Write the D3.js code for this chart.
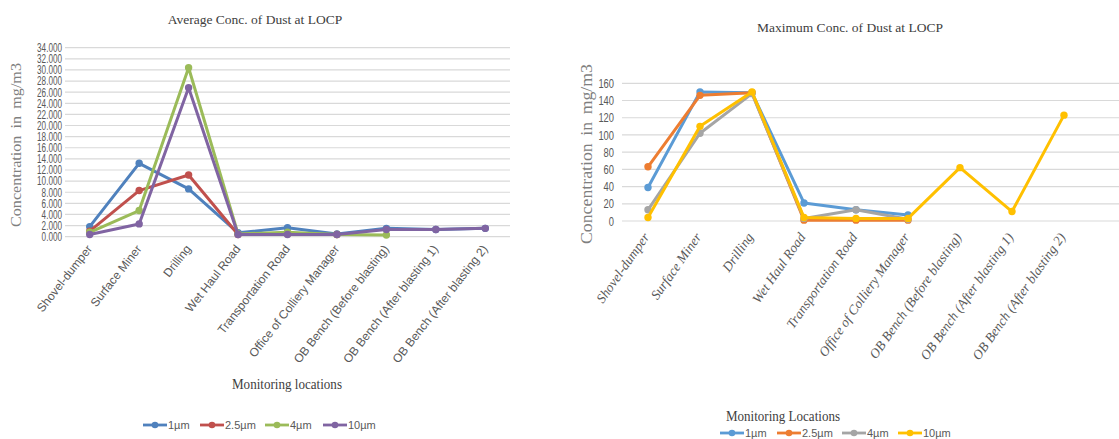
<!DOCTYPE html>
<html><head><meta charset="utf-8">
<script src="https://cdn.jsdelivr.net/npm/d3@7"></script>
<style>body{margin:0;background:#fff}svg{display:block}</style>
</head><body><svg id="c" width="1119" height="439"></svg>
<script>
const categories = ["Shovel-dumper","Surface Miner","Drilling","Wet Haul Road","Transportation Road","Office of Colliery Manager","OB Bench (Before blasting)","OB Bench (After blasting 1)","OB Bench (After blasting 2)"];
const seriesNames = ["1µm","2.5µm","4µm","10µm"];
// Average concentration (mg/m3)
const avg1 = [1.8, 13.2, 8.6, 0.7, 1.6, 0.5, 1.5, 1.3, 1.5];
const avg25 = [1.0, 8.3, 11.1, 0.4, 0.5, 0.4, null, null, null];
const avg4 = [0.8, 4.7, 30.4, 0.5, 0.8, 0.4, 0.3, null, null];
const avg10 = [0.4, 2.3, 26.8, 0.4, 0.4, 0.4, 1.3, 1.3, 1.5];
// Maximum concentration (mg/m3)
const max1 = [39, 150, 149, 21, 13, 7, null, null, null];
const max25 = [63, 146, 149, 1, 1, 1, null, null, null];
const max4 = [13, 102, 148, 3, 13, 2, null, null, null];
const max10 = [4, 110, 150, 4, 3, 3, 62, 11, 123];
const avgTicks = [0,2,4,6,8,10,12,14,16,18,20,22,24,26,28,30,32,34];
const maxTicks = [0,20,40,60,80,100,120,140,160];

const svg = d3.select("#c");
const serif = "'Liberation Serif','Times New Roman',serif";
const sans = "'Liberation Sans',Arial,sans-serif";

function drawChart(o){
  const g = svg.append("g");
  const x = d3.scalePoint().domain(categories).range([o.x0,o.x1]).padding(0.5);
  const y = d3.scaleLinear().domain([0,o.ymax]).range([o.yb,o.yt]);
  g.selectAll(".grid").data(o.ticks).join("line")
    .attr("x1",o.x0).attr("x2",o.gx1).attr("y1",d=>y(d)).attr("y2",d=>y(d))
    .attr("stroke","#d9d9d9").attr("stroke-width",1.2);
  const ya = d3.axisLeft(y).tickValues(o.ticks).tickFormat(o.fmt).tickSize(0).tickPadding(0);
  const yg = g.append("g").attr("transform",`translate(${o.tickX},0) scale(${o.tickSx},1)`).call(ya);
  yg.select(".domain").remove();
  yg.selectAll("text").attr("font-family",sans).attr("font-size",o.tickFs).attr("fill","#595959");
  g.selectAll(".xl").data(categories).join("text")
    .attr("transform",d=>`translate(${x(d)+o.xlDx},${o.xlY}) rotate(${o.rot})`)
    .attr("text-anchor","end").attr("font-family",o.xlFont).attr("font-style",o.xlStyle)
    .attr("font-size",o.xlFs).attr("fill","#595959").text(d=>d);
  const line = d3.line().defined(d=>d!=null).x((d,i)=>x(categories[i])).y(d=>y(d));
  o.series.forEach((s,k)=>{
    g.append("path").datum(s).attr("d",line).attr("fill","none")
      .attr("stroke",o.colors[k]).attr("stroke-width",3).attr("stroke-linejoin","round");
    g.selectAll(null).data(s.map((v,i)=>({v,i})).filter(d=>d.v!=null)).join("circle")
      .attr("cx",d=>x(categories[d.i])).attr("cy",d=>y(d.v)).attr("r",3.7).attr("fill",o.colors[k]);
  });
  g.append("text").attr("x",o.titleX).attr("y",o.titleY).attr("text-anchor","middle")
    .attr("font-family",serif).attr("font-size",13.5).attr("fill","#404040").text(o.title);
  g.append("text").attr("transform",`translate(${o.ytX},${o.ytY}) rotate(-90)`).attr("text-anchor","middle")
    .attr("font-family",serif).attr("font-size",o.ytFs).attr("fill","#7f7f7f").attr("word-spacing",3)
    .attr("textLength",o.ytLen).attr("lengthAdjust","spacingAndGlyphs").text("Concentration in mg/m3");
  g.append("text").attr("x",o.xtX).attr("y",o.xtY).attr("text-anchor","middle")
    .attr("font-family",serif).attr("font-size",15.5).attr("fill","#404040")
    .attr("textLength",o.xtLen).attr("lengthAdjust","spacingAndGlyphs").text(o.xTitle);
  seriesNames.forEach((n,k)=>{
    const lx=o.legX[k], ly=o.legY;
    g.append("line").attr("x1",lx).attr("x2",lx+24).attr("y1",ly).attr("y2",ly).attr("stroke",o.colors[k]).attr("stroke-width",2.8);
    g.append("circle").attr("cx",lx+12).attr("cy",ly).attr("r",3.3).attr("fill",o.colors[k]);
    g.append("text").attr("x",lx+25).attr("y",ly+4).attr("font-family",sans).attr("font-size",11).attr("fill","#595959").text(n);
  });
}

drawChart({x0:65,x1:510,gx1:510,yb:236.7,yt:47.7,ymax:34,ticks:avgTicks,fmt:d3.format(".3f"),
  tickX:62,tickSx:0.68,tickFs:12,xlDx:3,xlY:249,rot:-52,xlFont:sans,xlStyle:"normal",xlFs:12,
  series:[avg1,avg25,avg4,avg10],colors:["#4f81bd","#c0504d","#9bbb59","#8064a2"],
  title:"Average Conc. of Dust at LOCP",titleX:255,titleY:24,ytX:21,ytY:145,ytFs:15.5,ytLen:164,
  xTitle:"Monitoring  locations",xtX:287,xtY:389,xtLen:110,legX:[143,200,265,323],legY:425});

drawChart({x0:622,x1:1090,gx1:1119,yb:221,yt:83.3,ymax:160,ticks:maxTicks,fmt:d3.format("d"),
  tickX:614,tickSx:0.72,tickFs:13,xlDx:2,xlY:237,rot:-55,xlFont:serif,xlStyle:"italic",xlFs:13.5,
  series:[max1,max25,max4,max10],colors:["#5b9bd5","#ed7d31","#a5a5a5","#ffc000"],
  title:"Maximum  Conc. of Dust at LOCP",titleX:850,titleY:32,ytX:592,ytY:154,ytFs:17,ytLen:180,
  xTitle:"Monitoring  Locations",xtX:783,xtY:421,xtLen:114,legX:[720,777,842,898],legY:433});
</script></body></html>
